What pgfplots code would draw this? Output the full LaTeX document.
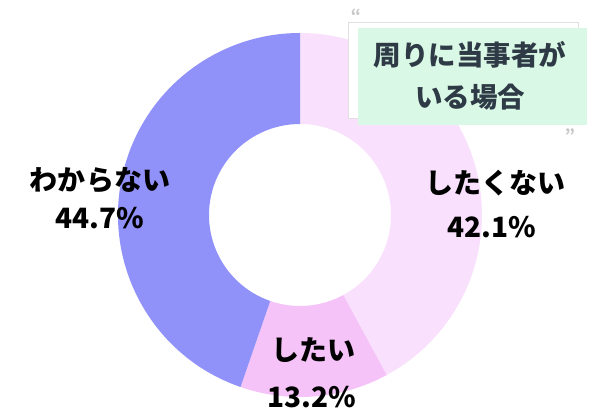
\documentclass[border=0pt]{standalone}
\usepackage{pgfplots}
\pgfplotsset{compat=1.18}
\usepackage{pgfplotstable}
\usepackage{fontspec}
\newfontfamily\cjk{Noto Sans CJK JP}
\definecolor{cA}{HTML}{F9E0FC}
\definecolor{cB}{HTML}{F5C3F8}
\definecolor{cC}{HTML}{9191FA}
\definecolor{boxg}{HTML}{DAF8E6}
\definecolor{titc}{HTML}{2E3A45}
\pgfplotstableread{
label value
A 42.1
B 13.2
C 44.7
}\datatable
\pgfplotstablegetelem{0}{value}\of\datatable \let\va\pgfplotsretval
\pgfplotstablegetelem{1}{value}\of\datatable \let\vb\pgfplotsretval
\pgfplotstablegetelem{2}{value}\of\datatable \let\vc\pgfplotsretval
\pgfmathsetmacro\aA{90}
\pgfmathsetmacro\aB{90-3.6*\va}
\pgfmathsetmacro\aC{\aB-3.6*\vb}
\pgfmathsetmacro\aD{\aC-3.6*\vc}
\newcommand\lab{\cjk\bfseries\fontsize{28bp}{28bp}\selectfont}
\newcommand\tit{\cjk\bfseries\fontsize{27.5bp}{27.5bp}\selectfont}
\begin{document}
\begin{tikzpicture}
\begin{axis}[scale only axis, width=600bp, height=413bp,
  xmin=0, xmax=600, ymin=0, ymax=413, hide axis, clip=false]
\path (axis cs:0,0) rectangle (axis cs:600,413);
\path (axis cs:300,198) coordinate (C);
\fill[cA] ([shift={(\aA:182bp)}]C) arc[start angle=\aA, end angle=\aB, radius=182bp] -- ([shift={(\aB:91bp)}]C) arc[start angle=\aB, end angle=\aA, radius=91bp] -- cycle;
\fill[cB] ([shift={(\aB:182bp)}]C) arc[start angle=\aB, end angle=\aC, radius=182bp] -- ([shift={(\aC:91bp)}]C) arc[start angle=\aC, end angle=\aB, radius=91bp] -- cycle;
\fill[cC] ([shift={(\aC:182bp)}]C) arc[start angle=\aC, end angle=\aD, radius=182bp] -- ([shift={(\aD:91bp)}]C) arc[start angle=\aD, end angle=\aC, radius=91bp] -- cycle;
% title box
\draw[black!12, fill=white, line width=0.8bp] (axis cs:348,391) rectangle (axis cs:578,295);
\fill[boxg] (axis cs:358,385) rectangle (axis cs:587,288);
\node[text=black!22, font=\cjk\bfseries\fontsize{16bp}{16bp}\selectfont] at (axis cs:356,398) {“};
\node[text=black!22, font=\cjk\bfseries\fontsize{16bp}{16bp}\selectfont] at (axis cs:570,278) {”};
\node[text=titc, font=\tit] at (axis cs:470,358) {周りに当事者が};
\node[text=titc, font=\tit] at (axis cs:470,316) {いる場合};
% labels
\node[font=\lab] at (axis cs:100,233) {わからない};
\node[font=\lab] at (axis cs:100,195) {44.7\%};
\node[font=\lab] at (axis cs:495,230) {したくない};
\node[font=\lab] at (axis cs:492,186) {42.1\%};
\node[font=\lab] at (axis cs:313,63) {したい};
\node[font=\lab] at (axis cs:312,16) {13.2\%};
\end{axis}
\end{tikzpicture}
\end{document}
